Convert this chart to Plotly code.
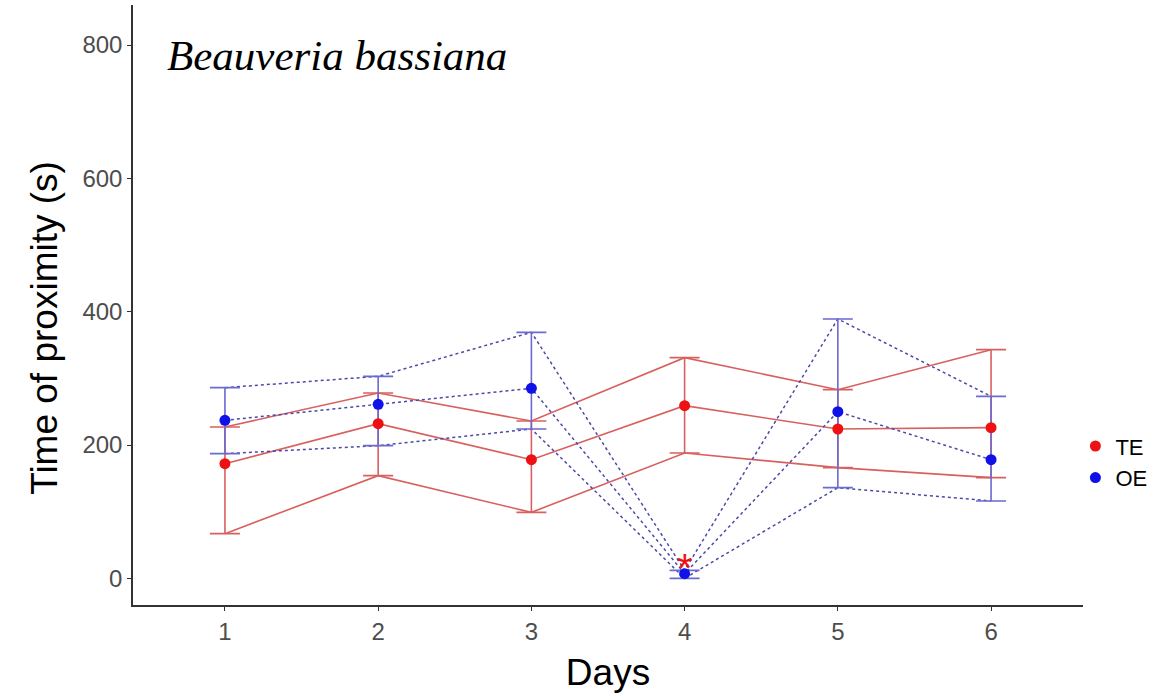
import plotly.graph_objects as go

days = [1, 2, 3, 4, 5, 6]
te_mean = [172, 232, 178, 259, 224, 226]
te_upper = [227, 278, 236, 331, 283, 343]
te_lower = [67, 154, 99, 188, 166, 151]
oe_mean = [237, 261, 285, 7, 250, 178]
oe_upper = [286, 303, 369, 12, 389, 273]
oe_lower = [187, 199, 224, 0, 136, 116]
y_ticks = [0, 200, 400, 600, 800]

RED_LINE = "#d8605f"
RED_PT = "#ee1111"
BLUE_LINE = "#4a4aa8"
BLUE_BAR = "#6a6ad0"
BLUE_PT = "#1010e8"

fig = go.Figure()

for series in (te_upper, te_mean, te_lower):
    fig.add_trace(go.Scatter(x=days, y=series, mode="lines", showlegend=False,
                             hoverinfo="skip",
                             line=dict(color=RED_LINE, width=1.6)))
for series in (oe_upper, oe_mean, oe_lower):
    fig.add_trace(go.Scatter(x=days, y=series, mode="lines", showlegend=False,
                             hoverinfo="skip",
                             line=dict(color=BLUE_LINE, width=1.5, dash="dot")))

# error bars
fig.add_trace(go.Scatter(
    x=days, y=te_mean, mode="markers", showlegend=False,
    marker=dict(size=1, color="rgba(0,0,0,0)"),
    error_y=dict(type="data", symmetric=False,
                 array=[u - m for u, m in zip(te_upper, te_mean)],
                 arrayminus=[m - l for m, l in zip(te_mean, te_lower)],
                 color=RED_LINE, thickness=1.6, width=15)))
fig.add_trace(go.Scatter(
    x=days, y=oe_mean, mode="markers", showlegend=False,
    marker=dict(size=1, color="rgba(0,0,0,0)"),
    error_y=dict(type="data", symmetric=False,
                 array=[u - m for u, m in zip(oe_upper, oe_mean)],
                 arrayminus=[m - l for m, l in zip(oe_mean, oe_lower)],
                 color=BLUE_BAR, thickness=1.6, width=15)))

# points
fig.add_trace(go.Scatter(x=days, y=te_mean, mode="markers", name="TE",
                         marker=dict(size=11, color=RED_PT)))
fig.add_trace(go.Scatter(x=days, y=oe_mean, mode="markers", name="OE",
                         marker=dict(size=11, color=BLUE_PT)))

fig.add_annotation(x=4, y=15, text="*", showarrow=False, xref="x", yref="y",
                   font=dict(size=40, color=RED_PT, family="Liberation Sans"),
                   yanchor="middle")
fig.add_annotation(x=0.61, y=785, text="<i>Beauveria bassiana</i>", showarrow=False,
                   xref="x", yref="y", xanchor="left", yanchor="middle",
                   font=dict(size=43, color="black", family="Liberation Serif"))
fig.add_annotation(x=-0.0926, y=0.462, xref="paper", yref="paper",
                   text="Time of proximity (s)", showarrow=False, textangle=-90,
                   xanchor="center", yanchor="middle",
                   font=dict(size=37, color="black"))

fig.update_layout(
    width=1160, height=693,
    margin=dict(l=133, r=77, t=5, b=88, autoexpand=False),
    paper_bgcolor="white", plot_bgcolor="white",
    font=dict(family="Liberation Sans, Arial, sans-serif"),
    legend=dict(x=0.992, y=0.238, xanchor="left", yanchor="middle",
                font=dict(size=22, color="black"), itemwidth=30,
                tracegroupgap=0, bgcolor="rgba(0,0,0,0)"),
    xaxis=dict(range=[0.4, 6.6], tickvals=days, ticktext=[str(d) for d in days],
               showgrid=False, zeroline=False, showline=True, linecolor="#333333",
               linewidth=1.5, ticks="outside", ticklen=4, tickcolor="#333333",
               tickfont=dict(size=24, color="#4d4d4d"),
               title=dict(text="Days", font=dict(size=37, color="black"), standoff=16)),
    yaxis=dict(range=[-40, 860], tickvals=y_ticks,
               showgrid=False, zeroline=False, showline=True, linecolor="#333333",
               linewidth=1.5, ticks="outside", ticklen=4, tickcolor="#333333",
               tickfont=dict(size=24, color="#4d4d4d")),
)

fig.write_html("out.html")
